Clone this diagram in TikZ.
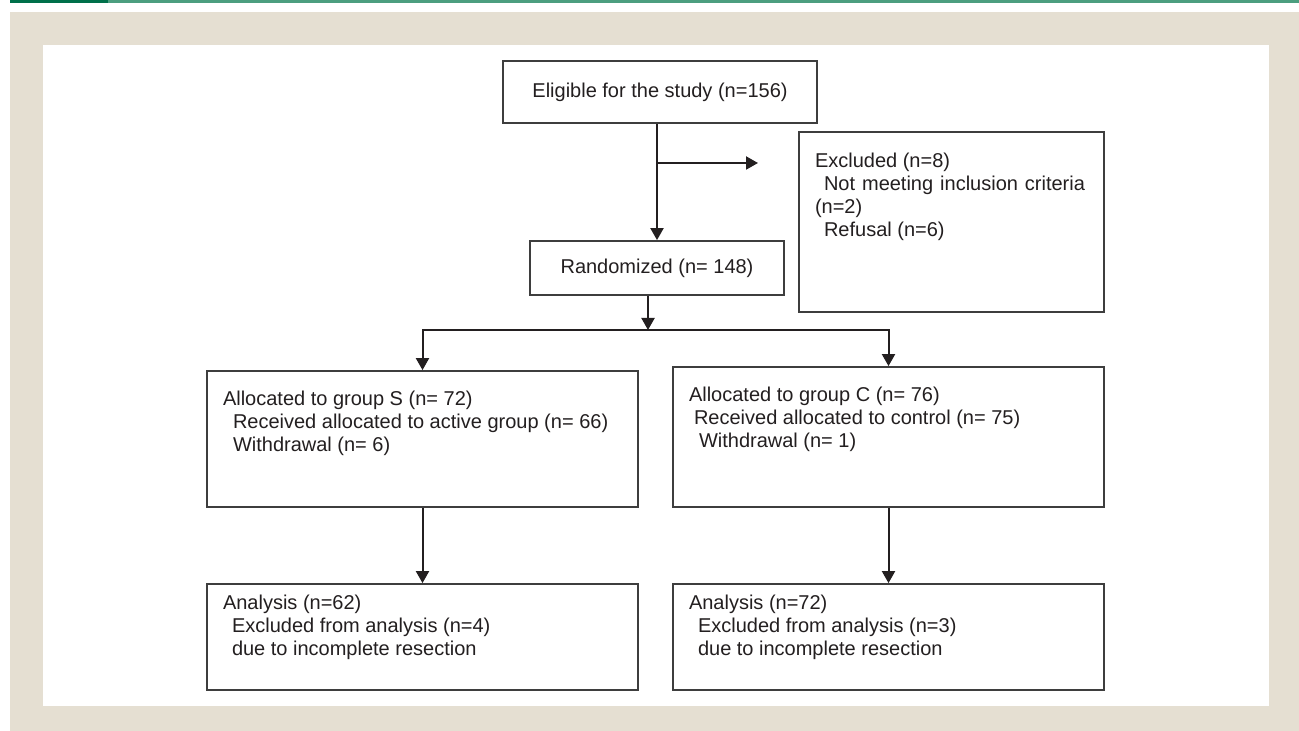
\documentclass[tikz,border=0pt]{standalone}
\usepackage{fontspec}
\setmainfont{Liberation Sans}
\usetikzlibrary{arrows.meta,calc}

\definecolor{panel}{RGB}{229,223,210}
\definecolor{bardark}{RGB}{0,112,74}
\definecolor{barlight}{RGB}{76,158,127}
\definecolor{ink}{RGB}{35,31,32}
\definecolor{edge}{RGB}{62,62,62}

\newcommand{\ind}{\hspace*{4.5pt}}
\newcommand{\toptext}[4]{\parbox[c][#2][t]{#1}{\leftskip=8pt\vspace*{#3}#4}}

\begin{document}
\begin{tikzpicture}[x=0.5pt,y=-0.5pt,
    every node/.style={text=ink,font=\fontsize{10}{11.5}\selectfont},
    cell/.style={draw=edge,line width=0.9pt,rectangle,inner sep=0pt},
    arr/.style={draw=ink,line width=1pt,>={Triangle[length=6pt,width=6.5pt]},->}]

  \useasboundingbox (0,0) rectangle (1299,731);

  % page frame
  \fill[bardark] (10,0) rectangle (108,3);
  \fill[barlight] (108,0) rectangle (1299,3);
  \fill[panel] (10,12) rectangle (1299,731);
  \fill[white] (43,45) rectangle (1269,706);

  \node[cell,minimum width=157pt,minimum height=31pt] (elig) at (660,92) {Eligible for the study (n=156)};
  \node[cell,minimum width=127pt,minimum height=27pt] (rand) at (657,268) {Randomized (n= 148)};
  \node[cell] (excl) at (951.5,222) {\toptext{152.5pt}{90pt}{10.5pt}{Excluded (n=8)\\
      \ind\makebox[130.5pt][s]{Not meeting inclusion criteria}\\
      (n=2)\\
      \ind Refusal (n=6)}};

  \node[cell] (grpS) at (422.5,439) {\toptext{215.5pt}{68pt}{10pt}{Allocated to group S (n= 72)\\
      \hspace*{5pt}Received allocated to active group (n= 66)\\
      \hspace*{5pt}Withdrawal (n= 6)}};
  \node[cell] (grpC) at (888.5,437) {\toptext{215.5pt}{70pt}{10pt}{Allocated to group C (n= 76)\\
      \hspace*{2.5pt}Received allocated to control (n= 75)\\
      \hspace*{5pt}Withdrawal (n= 1)}};

  \node[cell] (anaS) at (422.5,637) {\toptext{215.5pt}{53pt}{5.5pt}{Analysis (n=62)\\
      \ind Excluded from analysis (n=4)\\
      \ind due to incomplete resection}};
  \node[cell] (anaC) at (888.5,637) {\toptext{215.5pt}{53pt}{5.5pt}{Analysis (n=72)\\
      \ind Excluded from analysis (n=3)\\
      \ind due to incomplete resection}};

  \coordinate (gap) at (758,163);
  \coordinate (split) at (648,330);

  \draw[arr] (elig.south -| rand.north) -- (rand.north);
  \draw[arr] (rand.north |- gap) -- (gap);
  \draw[arr] (rand.south -| split) -- (split);
  \draw[arr,<->] (grpS.north) -- (grpS.north |- split) -- (grpC.north |- split) -- (grpC.north);
  \draw[arr] (grpS.south) -- (anaS.north);
  \draw[arr] (grpC.south) -- (anaC.north);

\end{tikzpicture}
\end{document}
